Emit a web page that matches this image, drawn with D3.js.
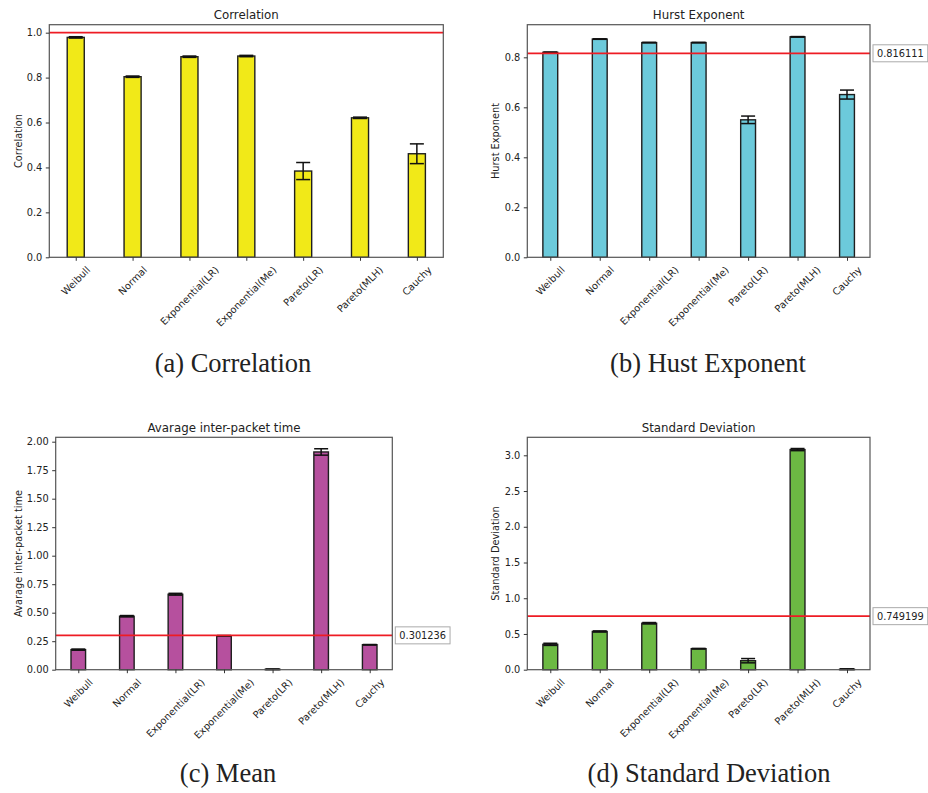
<!DOCTYPE html>
<html>
<head>
<meta charset="utf-8">
<script src="https://cdn.jsdelivr.net/npm/d3@7"></script>
<style>
  html, body { margin: 0; padding: 0; background: #fff; }
  svg { display: block; }
</style>
</head>
<body>
<svg id="fig" width="928" height="793"></svg>
<script>
// Fitted distributions compared in every panel
const categories = ["Weibull", "Normal", "Exponential(LR)", "Exponential(Me)", "Pareto(LR)", "Pareto(MLH)", "Cauchy"];

// (a) Correlation
const corrValues = [0.979, 0.804, 0.893, 0.896, 0.384, 0.621, 0.461];
const corrErrors = [0.003, 0.003, 0.003, 0.003, 0.038, 0.003, 0.044];
const corrRef = 1.0;
const corrTicks = [0, 0.2, 0.4, 0.6, 0.8, 1.0];

// (b) Hurst exponent
const hurstValues = [0.820, 0.873, 0.859, 0.859, 0.550, 0.882, 0.651];
const hurstErrors = [0.001, 0.001, 0.001, 0.001, 0.015, 0.001, 0.018];
const hurstRef = 0.816111;
const hurstTicks = [0, 0.2, 0.4, 0.6, 0.8];

// (c) Mean inter-packet time
const meanValues = [0.176, 0.469, 0.662, 0.298, 0.004, 1.910, 0.219];
const meanErrors = [0.005, 0.006, 0.008, 0.002, 0.002, 0.028, 0.002];
const meanRef = 0.301236;
const meanTicks = [0, 0.25, 0.5, 0.75, 1.0, 1.25, 1.5, 1.75, 2.0];

// (d) Standard deviation
const stdValues = [0.355, 0.535, 0.650, 0.294, 0.126, 3.080, 0.008];
const stdErrors = [0.015, 0.008, 0.010, 0.004, 0.030, 0.015, 0.004];
const stdRef = 0.749199;
const stdTicks = [0, 0.5, 1.0, 1.5, 2.0, 2.5, 3.0];

const svg = d3.select("#fig");
const sans = "DejaVu Sans, sans-serif";
const serif = "Liberation Serif, Times New Roman, serif";

function panel(cfg) {
  const { box, values, errors, ref, ticks, yMax, fmt, color, title, ylabel, ylabelX, showRefLabel, caption, captionX, captionY } = cfg;
  const g = svg.append("g");

  // matplotlib-style category axis: bars of width 0.3 with 5% margins
  const x = d3.scaleLinear().domain([-0.465, categories.length - 1 + 0.465]).range([box.left, box.right]);
  const y = d3.scaleLinear().domain([0, yMax]).range([box.bottom, box.top]);
  const bw = x(0.15) - x(-0.15);

  // bars
  g.selectAll("rect.bar").data(values).join("rect")
    .attr("class", "bar")
    .attr("x", (d, i) => x(i) - bw / 2)
    .attr("y", d => y(d))
    .attr("width", bw)
    .attr("height", d => y(0) - y(d))
    .attr("fill", color)
    .attr("stroke", "#1f1f1f")
    .attr("stroke-width", 1.4);

  // error bars
  const eb = g.selectAll("g.err").data(values).join("g").attr("class", "err");
  eb.append("line")
    .attr("x1", (d, i) => x(i)).attr("x2", (d, i) => x(i))
    .attr("y1", (d, i) => y(d - errors[i])).attr("y2", (d, i) => y(d + errors[i]))
    .attr("stroke", "#111").attr("stroke-width", 1.5);
  [-1, 1].forEach(s => {
    eb.append("line")
      .attr("x1", (d, i) => x(i) - 7).attr("x2", (d, i) => x(i) + 7)
      .attr("y1", (d, i) => y(d + s * errors[i])).attr("y2", (d, i) => y(d + s * errors[i]))
      .attr("stroke", "#111").attr("stroke-width", 1.5);
  });

  // reference line
  g.append("line")
    .attr("x1", box.left).attr("x2", box.right)
    .attr("y1", y(ref)).attr("y2", y(ref))
    .attr("stroke", "#ee1c24").attr("stroke-width", 1.7);

  // frame
  g.append("rect")
    .attr("x", box.left).attr("y", box.top)
    .attr("width", box.right - box.left).attr("height", box.bottom - box.top)
    .attr("fill", "none").attr("stroke", "#555").attr("stroke-width", 1.2);

  // y axis
  const yAxis = d3.axisLeft(y).tickValues(ticks).tickFormat(d3.format(fmt)).tickSize(3.5).tickPadding(3.5);
  const ya = g.append("g").attr("transform", `translate(${box.left},0)`).call(yAxis);
  ya.select(".domain").remove();
  ya.selectAll(".tick line").attr("stroke", "#333");
  ya.selectAll(".tick text").attr("font-family", sans).attr("font-size", 9.8).attr("fill", "#222");

  // x axis ticks
  const xa = g.append("g").attr("transform", `translate(0,${box.bottom})`)
    .call(d3.axisBottom(x).tickValues(d3.range(categories.length)).tickSize(3.5).tickFormat(""));
  xa.select(".domain").remove();
  xa.selectAll(".tick line").attr("stroke", "#333");

  // rotated category labels, rotated box centred under each tick
  const fs = 9.8;
  categories.forEach((c, i) => {
    const t = g.append("text")
      .attr("font-family", sans).attr("font-size", fs).attr("fill", "#222")
      .attr("text-anchor", "middle").attr("dominant-baseline", "central")
      .text(c);
    const w = t.node().getComputedTextLength();
    const half = (w + fs * 1.1) * Math.SQRT1_2 / 2;
    t.attr("transform", `translate(${x(i)},${box.bottom + 7 + half}) rotate(-45)`);
  });

  // title
  g.append("text")
    .attr("x", (box.left + box.right) / 2).attr("y", box.top - 5.5)
    .attr("text-anchor", "middle").attr("font-family", sans).attr("font-size", 11.8).attr("fill", "#222")
    .text(title);

  // y label
  g.append("text")
    .attr("transform", `translate(${ylabelX},${(box.top + box.bottom) / 2}) rotate(-90)`)
    .attr("text-anchor", "middle").attr("dominant-baseline", "central")
    .attr("font-family", sans).attr("font-size", 9.8).attr("fill", "#222")
    .text(ylabel);

  // value label for the reference line, in a framed box right of the axes
  if (showRefLabel) {
    const ry = y(ref);
    const frame = g.append("rect");
    const lbl = g.append("text")
      .attr("x", box.right + 7).attr("y", ry)
      .attr("dominant-baseline", "central")
      .attr("font-family", sans).attr("font-size", 9.8).attr("fill", "#222")
      .text(String(ref));
    const lw = lbl.node().getComputedTextLength();
    frame
      .attr("x", box.right + 3).attr("y", ry - 8.5)
      .attr("width", lw + 8).attr("height", 17)
      .attr("fill", "#fff").attr("stroke", "#aaa").attr("stroke-width", 1);
  }

  // caption
  g.append("text")
    .attr("x", captionX).attr("y", captionY)
    .attr("text-anchor", "middle").attr("font-family", serif).attr("font-size", 26.5).attr("fill", "#222")
    .text(caption);
}

panel({
  box: { left: 49.3, right: 443.3, top: 24.7, bottom: 257.3 },
  values: corrValues, errors: corrErrors, ref: corrRef, ticks: corrTicks, yMax: 1.0355, fmt: ".1f",
  color: "#f1e918", title: "Correlation", ylabel: "Correlation", ylabelX: 18.3, showRefLabel: false,
  caption: "(a) Correlation", captionX: 233, captionY: 372
});
panel({
  box: { left: 527.3, right: 870, top: 24.7, bottom: 257.3 },
  values: hurstValues, errors: hurstErrors, ref: hurstRef, ticks: hurstTicks, yMax: 0.9305, fmt: ".1f",
  color: "#6ccadb", title: "Hurst Exponent", ylabel: "Hurst Exponent", ylabelX: 495.7, showRefLabel: true,
  caption: "(b) Hust Exponent", captionX: 708, captionY: 372
});
panel({
  box: { left: 55.7, right: 392.3, top: 437.3, bottom: 669.7 },
  values: meanValues, errors: meanErrors, ref: meanRef, ticks: meanTicks, yMax: 2.0386, fmt: ".2f",
  color: "#b6509e", title: "Avarage inter-packet time", ylabel: "Avarage inter-packet time", ylabelX: 18.3, showRefLabel: true,
  caption: "(c) Mean", captionX: 228, captionY: 782
});
panel({
  box: { left: 527.3, right: 870, top: 437.3, bottom: 669.7 },
  values: stdValues, errors: stdErrors, ref: stdRef, ticks: stdTicks, yMax: 3.252, fmt: ".1f",
  color: "#6cb943", title: "Standard Deviation", ylabel: "Standard Deviation", ylabelX: 495.7, showRefLabel: true,
  caption: "(d) Standard Deviation", captionX: 709, captionY: 782
});
</script>
</body>
</html>
